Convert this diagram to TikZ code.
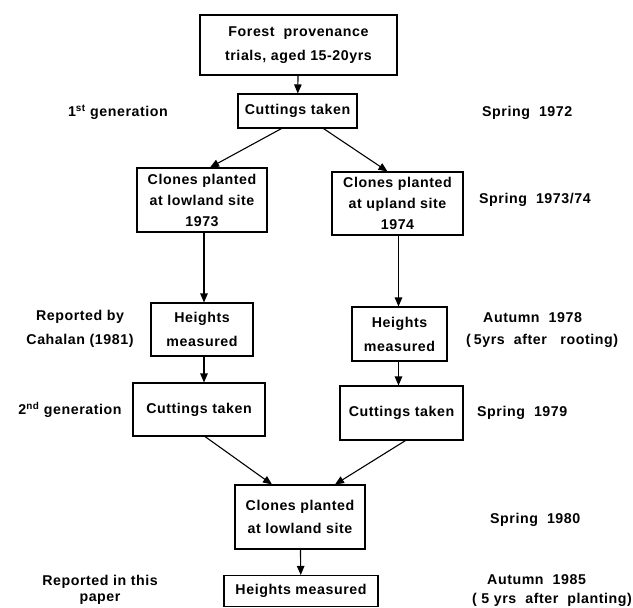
\documentclass[tikz,border=0pt]{standalone}
\usepackage{fontspec}
\setmainfont{Liberation Sans}[LetterSpace=4]
\usetikzlibrary{arrows.meta,calc}
\begin{document}
\begin{tikzpicture}[x=1pt,y=-1pt,
  every node/.style={font=\bfseries\fontsize{14.2}{21}\selectfont},
  box/.style={draw,line width=1.1pt,inner sep=0pt,align=center},
  lab/.style={align=center,inner sep=0pt},
  arr/.style={line width=1.1pt,-{Triangle[length=9pt,width=7.5pt]}}]
\useasboundingbox (0,0) rectangle (633,608);
\node[box,minimum width=197pt,minimum height=60pt] (b1) at (298.5,45) {Forest\ \ provenance\\[3pt]trials,\ aged 15-20yrs};
\node[box,minimum width=119pt,minimum height=34pt] (b2) at (297.5,111) {Cuttings taken};
\node[box,minimum width=130pt,minimum height=64pt] (b3) at (202,200) {Clones planted\\at lowland site\\1973};
\node[box,minimum width=131pt,minimum height=63pt] (b4) at (397.5,203.5) {Clones planted\\at upland site\\1974};
\node[box,minimum width=102pt,minimum height=53pt] (b5) at (202,329.5) {Heights\\[3pt]measured};
\node[box,minimum width=95pt,minimum height=54pt] (b6) at (399.5,334) {Heights\\[3pt]measured};
\node[box,minimum width=132pt,minimum height=53pt] (b7) at (199,409.5) {Cuttings taken};
\node[box,minimum width=123pt,minimum height=54pt] (b8) at (401.5,413) {Cuttings taken};
\node[box,minimum width=130pt,minimum height=64pt] (b9) at (300,517) {Clones planted\\[2pt]at lowland site};
\node[box,minimum width=154pt,minimum height=31pt] (b10) at (301,591) {Heights measured};

\draw[arr] (b1) -- (b2);
\draw[arr] ([xshift=-16pt]b2.south) -- ([xshift=8pt]b3.north);
\draw[arr] ([xshift=26pt]b2.south) -- ([xshift=-10pt]b4.north);
\draw[arr] ([xshift=2pt]b3.south) -- ([xshift=2pt]b5.north);
\draw[arr] ([xshift=1pt]b4.south) -- ([xshift=-1pt]b6.north);
\draw[arr] ([xshift=2pt]b5.south) -- ([xshift=5pt]b7.north);
\draw[arr] ([xshift=-1pt]b6.south) -- ([xshift=-3pt]b8.north);
\draw[arr] ([xshift=6pt]b7.south) -- ([xshift=-28pt]b9.north);
\draw[arr] ([xshift=4pt]b8.south) -- ([xshift=35pt]b9.north);
\draw[arr] (b9) -- (b10);

\node[lab] (l1) at (118,112) {1\textsuperscript{st} generation};
\node[lab] (l2) at (80,329) {Reported by\\[3pt]Cahalan (1981)};
\node[lab] (l3) at (70,410) {2\textsuperscript{nd} generation};
\node[lab] (l4) at (100,590) {Reported in this\\[-5pt]paper};

\node[lab,anchor=west] (r1) at (482,113) {Spring\ \ 1972};
\node[lab,anchor=west] (r2) at (479,200) {Spring\ \ 1973/74};
\node[lab,anchor=west] (r3) at (483,318) {Autumn\ \ 1978};
\node[lab,anchor=west] (r4) at (466,341) {(\hspace{3pt}5yrs\ \ after\ \ \ rooting)};
\node[lab,anchor=west] (r5) at (477,413) {Spring\ \ 1979};
\node[lab,anchor=west] (r6) at (490,520) {Spring\ \ 1980};
\node[lab,anchor=west] (r7) at (487,580) {Autumn\ \ 1985};
\node[lab,anchor=west] (r8) at (472,600) {(\ 5\ yrs\ \ after\ \ planting)};
\end{tikzpicture}
\end{document}
